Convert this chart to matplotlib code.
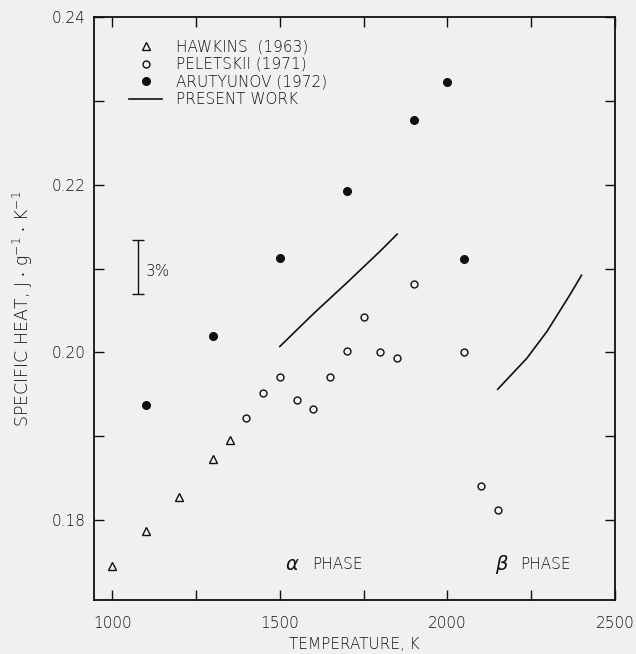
import matplotlib.pyplot as plt
from matplotlib.ticker import MultipleLocator, FormatStrFormatter

plt.rcParams['font.family'] = ['DejaVu Sans']
plt.rcParams['font.weight'] = 'light'
plt.rcParams['axes.labelweight'] = 'light'
plt.rcParams['mathtext.fontset'] = 'dejavusans'

# Hawkins (1963)
hawkins_t = [1000, 1100, 1200, 1300, 1350]
hawkins_cp = [0.1745, 0.1787, 0.1828, 0.1873, 0.1895]

# Peletskii (1971)
peletskii_t = [1400, 1450, 1500, 1550, 1600, 1650, 1700, 1750, 1800, 1850,
               1900, 2050, 2100, 2150]
peletskii_cp = [0.1922, 0.1952, 0.1971, 0.1943, 0.1932, 0.1971, 0.2002,
                0.2042, 0.2001, 0.1993, 0.2081, 0.2001, 0.1841, 0.1812]

# Arutyunov (1972)
arutyunov_t = [1100, 1300, 1500, 1700, 1900, 2000, 2050]
arutyunov_cp = [0.1937, 0.2019, 0.2113, 0.2193, 0.2277, 0.2322, 0.2111]

# present work, alpha and beta phase
alpha_t = [1500, 1600, 1700, 1800, 1850]
alpha_cp = [0.2007, 0.2046, 0.2083, 0.2121, 0.2141]
beta_t = [2150, 2237, 2297, 2366, 2400]
beta_cp = [0.1956, 0.1993, 0.2025, 0.2069, 0.2092]

ink = '#101010'
bg = '#f0f0f0'

fig = plt.figure(figsize=(6.36, 6.54), dpi=100, facecolor=bg)
ax = fig.add_axes([0.148, 0.083, 0.819, 0.891], facecolor=bg)

ax.plot(hawkins_t, hawkins_cp, linestyle='none', marker='^', ms=5.5,
        mfc='none', mec=ink, mew=1.0, label='HAWKINS  (1963)')
ax.plot(peletskii_t, peletskii_cp, linestyle='none', marker='o', ms=5,
        mfc='none', mec=ink, mew=1.0, label='PELETSKII (1971)')
ax.plot(arutyunov_t, arutyunov_cp, linestyle='none', marker='o', ms=5.5,
        mfc=ink, mec=ink, label='ARUTYUNOV (1972)')
ax.plot(alpha_t, alpha_cp, color=ink, lw=1.2, label='PRESENT WORK')
ax.plot(beta_t, beta_cp, color=ink, lw=1.2)

# 3% error bar
ax.errorbar([1076], [0.2102], yerr=[0.0032], color=ink, lw=1.0,
            capsize=4, capthick=1.0)
ax.text(1100, 0.2097, '3%', fontsize=11, color=ink, va='center', ha='left')

ax.text(1536, 0.1747, r'$\alpha$', fontsize=14, color=ink, ha='center', va='center')
ax.text(1595, 0.1747, 'PHASE', fontsize=11, color=ink, ha='left', va='center')
ax.text(2164, 0.1747, r'$\beta$', fontsize=14, color=ink, ha='center', va='center')
ax.text(2217, 0.1747, 'PHASE', fontsize=11, color=ink, ha='left', va='center')

ax.set_xlim(946, 2500)
ax.set_ylim(0.1705, 0.24)
ax.xaxis.set_major_locator(MultipleLocator(500))
ax.xaxis.set_minor_locator(MultipleLocator(250))
ax.yaxis.set_major_locator(MultipleLocator(0.02))
ax.yaxis.set_minor_locator(MultipleLocator(0.01))
ax.yaxis.set_major_formatter(FormatStrFormatter('%.2f'))
ax.tick_params(which='both', direction='in', top=True, right=True,
               length=7, width=1.0, color=ink, labelsize=11,
               labelcolor=ink)
ax.tick_params(axis='x', pad=12)
ax.tick_params(axis='y', pad=6)
for s in ax.spines.values():
    s.set_linewidth(1.3)
    s.set_color(ink)

ax.set_xlabel('TEMPERATURE, K', fontsize=11, color=ink, labelpad=4)
ax.set_ylabel(r'SPECIFIC HEAT, J $\cdot$ g$^{-1}$ $\cdot$ K$^{-1}$',
              fontsize=12.5, color=ink, labelpad=12)

ax.legend(loc='upper left', bbox_to_anchor=(0.052, 0.975), frameon=False,
          fontsize=11, handlelength=2.2, handletextpad=0.9,
          labelspacing=0.18, borderpad=0, labelcolor=ink)

fig.savefig('out.png', dpi=100, facecolor=bg)
